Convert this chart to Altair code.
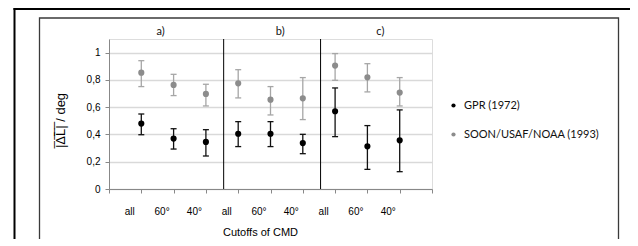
import altair as alt
import pandas as pd

# ---- data ----
x_pos = [1, 2, 3, 4, 5, 6, 7, 8, 9]
cutoff_labels = ["all", "60°", "40°", "all", "60°", "40°", "all", "60°", "40°"]
series_names = ["GPR (1972)", "SOON/USAF/NOAA (1993)"]

gpr_mean = [0.48, 0.37, 0.345, 0.405, 0.405, 0.337, 0.57, 0.313, 0.357]
gpr_lo = [0.398, 0.293, 0.242, 0.311, 0.311, 0.259, 0.384, 0.144, 0.127]
gpr_hi = [0.550, 0.442, 0.435, 0.494, 0.494, 0.401, 0.741, 0.465, 0.580]

soon_mean = [0.853, 0.763, 0.697, 0.775, 0.655, 0.665, 0.905, 0.819, 0.707]
soon_lo = [0.751, 0.685, 0.609, 0.668, 0.543, 0.509, 0.797, 0.712, 0.609]
soon_hi = [0.941, 0.841, 0.768, 0.875, 0.751, 0.817, 0.993, 0.919, 0.817]

panel_labels = ["a)", "b)", "c)"]
panel_label_x = [1.6, 5.3, 8.4]
panel_label_y = [1.15, 1.15, 1.15]
separator_x = [3.55, 6.55]

y_ticks = [0, 0.2, 0.4, 0.6, 0.8, 1.0]
x_ticks = [0, 1, 2, 3, 4, 5, 6, 7, 8, 9, 10]

# ---- tables ----
rows = []
for name, m, lo, hi in [
    (series_names[0], gpr_mean, gpr_lo, gpr_hi),
    (series_names[1], soon_mean, soon_lo, soon_hi),
]:
    for i, x in enumerate(x_pos):
        rows.append({"series": name, "x": x, "mean": m[i], "lo": lo[i], "hi": hi[i]})
df = pd.DataFrame(rows)
panels = pd.DataFrame({"label": panel_labels, "x": panel_label_x, "y": panel_label_y})
seps = pd.DataFrame({"x": separator_x})

FONT = "Lato"
point_colors = ["#000000", "#8c8c8c"]
bar_colors = ["#111111", "#a6a6a6"]

label_arr = "[" + ",".join("'%s'" % s for s in cutoff_labels) + "]"
x_label_expr = (
    "datum.value >= 1 && datum.value <= 9 ? %s[datum.value - 1] : ''" % label_arr
)

xscale = alt.Scale(domain=[0, 10], nice=False, zero=False)
yscale = alt.Scale(domain=[0, 1.1], nice=False)

x_axis = alt.Axis(
    values=x_ticks,
    labelExpr=x_label_expr,
    labelOffset=-12,
    labelPadding=13,
    labelOverlap=False,
    labelBound=False,
    labelFlush=False,
    tickSize=4,
    grid=False,
    title="Cutoffs of CMD",
    titleX=151,
    titleY=43,
    titleAlign="center",
    titleBaseline="middle",
    titleFontWeight="normal",
    titleFontSize=11,
)
y_axis = alt.Axis(
    values=y_ticks,
    labelExpr="replace(format(datum.value, '.1~f'), '.', ',')",
    labelOverlap=False,
    labelBound=False,
    labelFlush=False,
    tickSize=4,
    labelPadding=5,
    grid=True,
    gridColor="#d9d9d9",
    gridWidth=1.3,
    title="|\u0305\u0394\u0305L\u0305|\u0305 / deg",
    titleX=-49,
    titleY=81,
    titleAngle=-90,
    titleAlign="center",
    titleBaseline="middle",
    titleFontWeight="normal",
    titleFontSize=13,
)


def X(field):
    return alt.X(field, scale=xscale, axis=x_axis)


def Y(field):
    return alt.Y(field, scale=yscale, axis=y_axis)


base = alt.Chart(df)

bar_color = alt.Color("series:N", scale=alt.Scale(domain=series_names, range=bar_colors), legend=None)

bars = base.mark_rule(strokeWidth=1.3).encode(
    x=X("x:Q"), y=Y("lo:Q"), y2="hi:Q", color=bar_color
)
caps_lo = base.mark_rule(strokeWidth=1.3, xOffset=-3, x2Offset=3).encode(
    x=X("x:Q"), x2="x:Q", y=Y("lo:Q"), color=bar_color
)
caps_hi = base.mark_rule(strokeWidth=1.3, xOffset=-3, x2Offset=3).encode(
    x=X("x:Q"), x2="x:Q", y=Y("hi:Q"), color=bar_color
)
errs = alt.layer(bars, caps_lo, caps_hi)

points = base.mark_circle(size=38, opacity=1).encode(
    x=X("x:Q"),
    y=Y("mean:Q"),
    color=alt.Color(
        "series:N",
        scale=alt.Scale(domain=series_names, range=point_colors),
        legend=alt.Legend(
            title=None,
            orient="none",
            legendX=339,
            legendY=61,
            symbolType="circle",
            symbolSize=18,
            labelFontSize=11,
            labelFont=FONT,
            labelColor="#111111",
            labelOffset=5,
            rowPadding=17,
        ),
    ),
)

separators = alt.Chart(seps).mark_rule(color="#000000", strokeWidth=1).encode(
    x=X("x:Q"), y=alt.value(0), y2=alt.value(150)
)

panel_text = alt.Chart(panels).mark_text(font=FONT, fontSize=11, color="#111111").encode(
    x=X("x:Q"), y=Y("y:Q"), text="label:N"
)

# decorative frames of the original figure
one = seps.head(1)
outer_left = alt.Chart(one).mark_rule(color="#000000", strokeWidth=2).encode(
    x=alt.value(-94.5), y=alt.value(-32), y2=alt.value(230)
)
outer_top = alt.Chart(one).mark_rule(color="#000000", strokeWidth=2).encode(
    y=alt.value(-30), x=alt.value(-95.5), x2=alt.value(540)
)
inner_frame = alt.Chart(one).mark_rect(
    fillOpacity=0, stroke="#3a3a3a", strokeWidth=1.3
).encode(x=alt.value(-69.5), x2=alt.value(509.5), y=alt.value(-21), y2=alt.value(240))

chart = (
    alt.layer(inner_frame, outer_left, outer_top, separators, errs, points, panel_text)
    .resolve_scale(color="independent")
    .properties(
        width=323,
        height=150,
        autosize=alt.AutoSizeParams(type="none"),
        padding={"left": 101, "top": 31, "right": 198, "bottom": 50},
    )
    .configure_view(stroke="#000000", strokeWidth=1)
    .configure_axis(
        labelFont=FONT,
        titleFont=FONT,
        labelFontSize=11,
        labelColor="#111111",
        titleColor="#111111",
        domainColor="#000000",
        tickColor="#000000",
        domainWidth=1,
    )
    .configure(background="#ffffff")
)

chart.save("out.html", embed_options={"renderer": "svg", "actions": False})
